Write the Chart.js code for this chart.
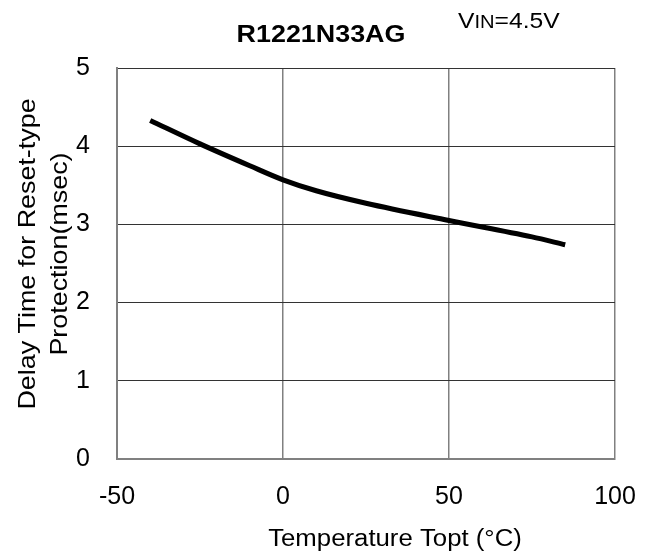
<!DOCTYPE html>
<html>
<head>
<meta charset="utf-8">
<script src="https://cdn.jsdelivr.net/npm/chart.js@4/dist/chart.umd.min.js"></script>
<style>
  html, body { margin: 0; padding: 0; background: #fff; }
  #wrap { width: 653px; height: 554px; }
</style>
</head>
<body>
<div id="wrap"><canvas id="chart-canvas"></canvas></div>
<script>
const temps = [-40, -25, -10, 0, 10, 25, 50, 75, 85];
const delays = [4.33, 4.03, 3.75, 3.57, 3.43, 3.27, 3.05, 2.84, 2.74];
const xTicks = [-50, 0, 50, 100];
const yTicks = [0, 1, 2, 3, 4, 5];

const chartTitle = 'R1221N33AG';
const xTitle = 'Temperature Topt (\u00B0C)';
const yTitle = ['Delay Time for Reset-type', 'Protection(msec)'];

const FONT = "'Liberation Sans', Arial, sans-serif";
const STRETCH = 1.12; // the source font is a bit wider than Arial

// draws text stretched horizontally, anchored at (x, y)
const drawWide = (ctx, text, x, y, align) => {
  ctx.save();
  ctx.translate(x, y);
  ctx.scale(STRETCH, 1);
  ctx.textAlign = align;
  ctx.fillText(text, 0, 0);
  ctx.restore();
};

const textPlugin = {
  id: 'texts',
  afterDraw(chart) {
    const ctx = chart.ctx;
    ctx.save();
    ctx.fillStyle = '#000';
    ctx.textBaseline = 'alphabetic';

    ctx.font = 'bold 24px ' + FONT;
    drawWide(ctx, chartTitle, 321, 42, 'center');

    // VIN=4.5V, "IN" in small caps
    let x = 458;
    const parts = [['V', 22], ['IN', 18], ['=4.5V', 22]];
    parts.forEach(([t, size]) => {
      ctx.font = size + 'px ' + FONT;
      drawWide(ctx, t, x, 28, 'left');
      x += ctx.measureText(t).width * STRETCH;
    });

    // x axis title
    ctx.font = '23px ' + FONT;
    drawWide(ctx, xTitle, 395, 546, 'center');

    // y axis title, two rotated lines
    ctx.font = '24px ' + FONT;
    const cy = 254;
    [[yTitle[0], 35], [yTitle[1], 67]].forEach(([t, bx]) => {
      ctx.save();
      ctx.translate(bx, cy);
      ctx.rotate(-Math.PI / 2);
      drawWide(ctx, t, 0, 0, 'center');
      ctx.restore();
    });
    ctx.restore();
  }
};

new Chart(document.getElementById('chart-canvas'), {
  type: 'line',
  data: {
    datasets: [{
      data: temps.map((t, i) => ({ x: t, y: delays[i] })),
      borderColor: '#000',
      borderWidth: 5,
      pointRadius: 0,
      cubicInterpolationMode: 'monotone',
      fill: false
    }]
  },
  options: {
    responsive: true,
    maintainAspectRatio: false,
    animation: false,
    layout: { padding: { top: 68, right: 38, left: 0, bottom: 0 } },
    plugins: { legend: { display: false }, tooltip: { enabled: false }, title: { display: false } },
    scales: {
      x: {
        type: 'linear',
        min: -50,
        max: 100,
        afterBuildTicks: s => { s.ticks = xTicks.map(v => ({ value: v })); },
        afterFit: s => { s.height = 95; s.paddingLeft = 0; s.paddingRight = 0; },
        grid: { color: '#808080', lineWidth: 1.5, drawTicks: false },
        border: { color: '#808080', width: 2 },
        ticks: { color: '#000', font: { family: FONT, size: 25 }, padding: 23, maxRotation: 0 },
        title: { display: false }
      },
      y: {
        min: 0,
        max: 5,
        afterBuildTicks: s => { s.ticks = yTicks.map(v => ({ value: v })); },
        afterFit: s => { s.width = 117; s.paddingTop = 0; s.paddingBottom = 0; },
        grid: { color: '#333', lineWidth: 1, drawTicks: false },
        border: { color: '#808080', width: 2 },
        ticks: { color: '#000', font: { family: FONT, size: 25 }, padding: 27 },
        title: { display: false }
      }
    }
  },
  plugins: [textPlugin]
});
</script>
</body>
</html>
